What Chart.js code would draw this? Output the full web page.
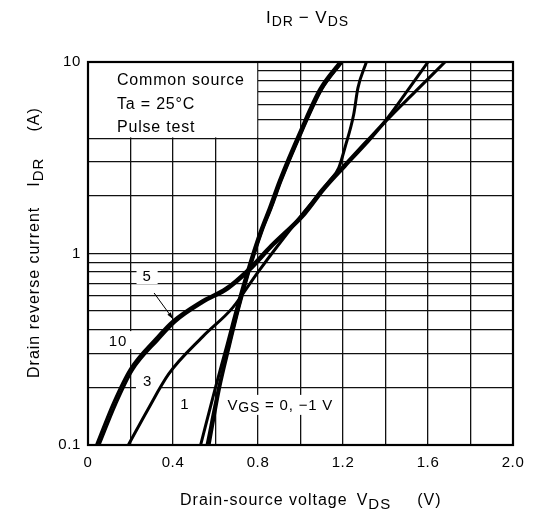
<!DOCTYPE html>
<html>
<head>
<meta charset="utf-8">
<script src="https://cdn.jsdelivr.net/npm/chart.js@4.4.1/dist/chart.umd.min.js"></script>
<style>
  html, body { margin: 0; background: #fff; }
  #wrap { width: 534px; height: 515px; position: relative; }
</style>
</head>
<body>
<div id="wrap"><canvas id="chart"></canvas></div>
<script>
'use strict';

// grid / tick values
const xGrid = [0, 0.2, 0.4, 0.6, 0.8, 1.0, 1.2, 1.4, 1.6, 1.8, 2.0];
const xTickLabels = ['0', '', '0.4', '', '0.8', '', '1.2', '', '1.6', '', '2.0'];
const yGrid = [0.1, 0.2, 0.3, 0.4, 0.5, 0.6, 0.7, 0.8, 0.9, 1, 2, 3, 4, 5, 6, 7, 8, 9, 10];
const yTickLabels = ['0.1', '', '', '', '', '', '', '', '', '1', '', '', '', '', '', '', '', '', '10'];

// VGS = 10 V
const vds10 = [0.04, 0.12, 0.2, 0.32, 0.4, 0.53, 0.65, 0.75, 0.86, 1.01, 1.1, 1.2, 1.3, 1.4, 1.5, 1.6];
const idr10 = [0.1, 0.166, 0.25, 0.36, 0.445, 0.56, 0.66, 0.82, 1.1, 1.6, 2.15, 2.85, 3.75, 4.95, 7.0, 10];
// VGS = 5 V
const vds5 = [0.052, 0.13, 0.208, 0.33, 0.41, 0.54, 0.66, 0.76, 0.87, 1.02, 1.11, 1.21, 1.31, 1.405, 1.54, 1.68];
const idr5 = [0.1, 0.163, 0.245, 0.355, 0.44, 0.555, 0.655, 0.815, 1.1, 1.6, 2.15, 2.85, 3.75, 4.95, 7.0, 10];
// VGS = 3 V
const vds3 = [0.19, 0.28, 0.38, 0.54, 0.68, 0.8, 1.0, 1.14, 1.18, 1.21, 1.25, 1.27, 1.31];
const idr3 = [0.1, 0.152, 0.235, 0.368, 0.52, 0.8, 1.56, 2.42, 2.8, 3.6, 5.3, 7.3, 10];
// VGS = 1 V
const vds1 = [0.53, 0.6, 0.65, 0.7, 0.76, 0.81, 0.855, 0.9, 1.0, 1.09, 1.185];
const idr1 = [0.1, 0.2, 0.32, 0.52, 0.88, 1.3, 1.75, 2.4, 4.4, 7.2, 10];
// VGS = 0 V
const vds0 = [0.56, 0.615, 0.66, 0.708, 0.766, 0.816, 0.862, 0.907, 1.007, 1.098, 1.193];
const idr0 = [0.1, 0.2, 0.32, 0.52, 0.88, 1.3, 1.75, 2.4, 4.4, 7.2, 10];
// VGS = -1 V
const vdsM1 = [0.57, 0.62, 0.663, 0.71, 0.768, 0.818, 0.864, 0.909, 1.009, 1.1, 1.195];
const idrM1 = [0.1, 0.2, 0.32, 0.52, 0.88, 1.3, 1.75, 2.4, 4.4, 7.2, 10];

const FONT = '"Liberation Sans", Arial, sans-serif';

const toPoints = function(xs, ys){
  return xs.map((v, i) => ({ x: v, y: ys[i] }));
};

const curve = function(label, xs, ys){
  return {
    label: label,
    data: toPoints(xs, ys),
    showLine: true,
    borderColor: '#000',
    borderWidth: 3,
    pointRadius: 0,
    cubicInterpolationMode: 'monotone',
  };
};

// text pieces: [text, size, dy, gapBefore]
const drawParts = function(ctx, parts, x, y){
  for (let p of parts){
    x += p[3] || 0;
    ctx.font = p[1] + 'px ' + FONT;
    ctx.fillText(p[0], x, y + p[2]);
    x += ctx.measureText(p[0]).width;
  }
};

const partsWidth = function(ctx, parts){
  let w = 0;
  for (let p of parts){
    ctx.font = p[1] + 'px ' + FONT;
    w += (p[3] || 0) + ctx.measureText(p[0]).width;
  }
  return w;
};

// white box with a label, centred on a data point
const boxLabel = function(chart, parts, vx, vy, padX, padY){
  const {ctx, scales: {x, y}} = chart;
  const cx = x.getPixelForValue(vx);
  const cy = y.getPixelForValue(vy);
  const w = partsWidth(ctx, parts);
  ctx.fillStyle = '#fff';
  ctx.fillRect(cx - w / 2 - padX, cy - 8 - padY, w + 2 * padX, 16 + 2 * padY);
  ctx.fillStyle = '#000';
  ctx.textBaseline = 'alphabetic';
  drawParts(ctx, parts, cx - w / 2, cy + 5.5);
};

const overlay = {
  id: 'overlay',
  beforeDraw(chart){
    chart.ctx.letterSpacing = '0.6px';
  },
  beforeDatasetsDraw(chart){
    const {ctx, chartArea: a, scales: {x, y}} = chart;
    ctx.save();
    ctx.letterSpacing = '0.8px';

    // condition box in the upper left corner
    const bx = x.getPixelForValue(0.8);
    const by = y.getPixelForValue(4);
    ctx.fillStyle = '#fff';
    ctx.fillRect(a.left, a.top, bx - a.left - 0.8, by - a.top - 0.8);
    ctx.fillStyle = '#000';
    ctx.font = '16px ' + FONT;
    ctx.textBaseline = 'alphabetic';
    const lines = ['Common source', 'Ta = 25\u00b0C', 'Pulse test'];
    lines.forEach((t, i) => ctx.fillText(t, a.left + 29, a.top + 23 + i * 23.5));

    boxLabel(chart, [['5', 15, 0]], 0.278, 0.763, 6, 0);
    boxLabel(chart, [['10', 15, 0]], 0.141, 0.353, 5, 1);
    boxLabel(chart, [['3', 15, 0]], 0.28, 0.216, 7, 2);
    boxLabel(chart, [['1', 15, 0]], 0.456, 0.164, 6, 2);
    boxLabel(chart, [['V', 15, 0], ['GS', 14, 2], [' = 0, \u22121 V', 15, 0]], 0.905, 0.162, 4, 2);
    ctx.restore();
  },
  afterDatasetsDraw(chart){
    const {ctx, chartArea: a, scales: {x, y}} = chart;
    ctx.save();

    // arrow from label 5 to the curve
    const x1 = x.getPixelForValue(0.311), y1 = y.getPixelForValue(0.622);
    const x2 = x.getPixelForValue(0.4), y2 = y.getPixelForValue(0.455);
    const ang = Math.atan2(y2 - y1, x2 - x1);
    ctx.strokeStyle = '#000';
    ctx.fillStyle = '#000';
    ctx.lineWidth = 1;
    ctx.beginPath();
    ctx.moveTo(x1, y1);
    ctx.lineTo(x2, y2);
    ctx.stroke();
    ctx.beginPath();
    ctx.moveTo(x2, y2);
    ctx.lineTo(x2 - 7 * Math.cos(ang - 0.3), y2 - 7 * Math.sin(ang - 0.3));
    ctx.lineTo(x2 - 7 * Math.cos(ang + 0.3), y2 - 7 * Math.sin(ang + 0.3));
    ctx.closePath();
    ctx.fill();

    // frame
    ctx.lineWidth = 2.2;
    ctx.strokeRect(a.left, a.top, a.right - a.left, a.bottom - a.top);
    ctx.restore();
  },
  afterDraw(chart){
    const {ctx} = chart;
    ctx.save();
    ctx.fillStyle = '#000';
    ctx.textBaseline = 'alphabetic';
    ctx.letterSpacing = '1px';

    // title
    drawParts(ctx, [['I', 17, 0], ['DR', 14, 3], [' \u2212 ', 17, 0, -1], ['V', 17, 0], ['DS', 14, 3]], 266, 23);

    // x axis title
    drawParts(ctx, [['Drain-source voltage', 16, 0], ['V', 16, 0, 9], ['DS', 15, 3.5], ['(V)', 16, 0, 26]], 180, 505);

    // y axis title
    ctx.translate(39, 378);
    ctx.rotate(-Math.PI / 2);
    drawParts(ctx, [['Drain reverse current', 16, 0], ['I', 16, 0, 20], ['DR', 15, 3.5], ['(A)', 16, 0, 26]], 0, 0);
    ctx.restore();
  }
};

const ctx = document.getElementById('chart').getContext('2d');
const chart = new Chart(ctx, {
  type: 'scatter',
  data: {
    datasets: [
      curve('VGS = 10 V', vds10, idr10),
      curve('VGS = 5 V', vds5, idr5),
      curve('VGS = 3 V', vds3, idr3),
      curve('VGS = 1 V', vds1, idr1),
      curve('VGS = 0 V', vds0, idr0),
      curve('VGS = -1 V', vdsM1, idrM1),
    ]
  },
  options: {
    responsive: true,
    maintainAspectRatio: false,
    animation: false,
    layout: { padding: { left: 0, top: 62, right: 21, bottom: 0 } },
    plugins: {
      legend: { display: false },
      tooltip: { enabled: false },
      title: { display: false },
    },
    scales: {
      x: {
        type: 'linear',
        min: 0,
        max: 2,
        afterBuildTicks: function(scale){
          scale.ticks = xGrid.map(v => ({ value: v }));
        },
        afterFit: function(scale){ scale.height = 70; },
        grid: { color: '#111', lineWidth: 1.3, drawTicks: false },
        border: { display: false },
        ticks: {
          autoSkip: false,
          maxRotation: 0,
          padding: 9,
          color: '#000',
          font: { family: FONT, size: 15 },
          callback: function(value, index){ return xTickLabels[index]; },
        },
      },
      y: {
        type: 'logarithmic',
        min: 0.1,
        max: 10,
        afterBuildTicks: function(scale){
          scale.ticks = yGrid.map(v => ({ value: v }));
        },
        afterFit: function(scale){ scale.width = 88; },
        grid: { color: '#111', lineWidth: 1.3, drawTicks: false },
        border: { display: false },
        ticks: {
          autoSkip: false,
          padding: 7,
          color: '#000',
          font: { family: FONT, size: 15 },
          callback: function(value, index){ return yTickLabels[index]; },
        },
      },
    },
  },
  plugins: [overlay],
});
</script>
</body>
</html>
